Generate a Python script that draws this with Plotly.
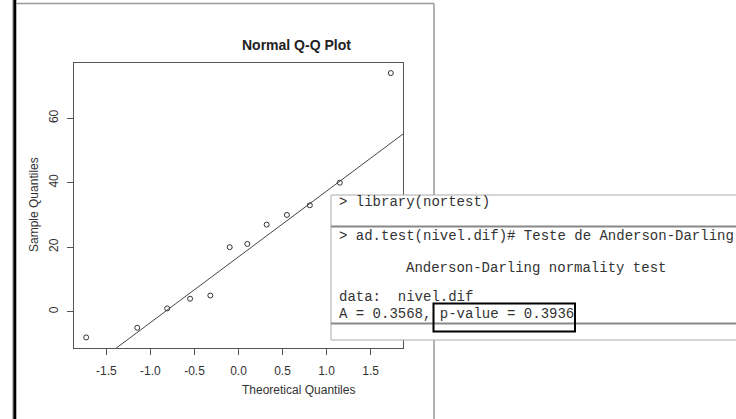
import plotly.graph_objects as go
import numpy as np
from statistics import NormalDist

W, H = 736, 419

# ---- data ----
theoretical_quantiles = [-1.73, -1.15, -0.81, -0.55, -0.32, -0.10, 0.10, 0.32, 0.55, 0.81, 1.15, 1.73]
sample_quantiles = [-8, -5, 1, 4, 5, 20, 21, 27, 30, 33, 40, 74]
x_tick_vals = [-1.5, -1.0, -0.5, 0.0, 0.5, 1.0, 1.5]
x_tick_text = ["-1.5", "-1.0", "-0.5", "0.0", "0.5", "1.0", "1.5"]
y_tick_vals = [0, 20, 40, 60]
y_tick_text = ["0", "20", "40", "60"]
title_text = "Normal Q-Q Plot"
x_title = "Theoretical Quantiles"
y_title = "Sample Quantiles"
console_lines = [
    "> library(nortest)",
    "> ad.test(nivel.dif)# Teste de Anderson-Darling",
    "Anderson-Darling normality test",
    "data:\u00a0\u00a0nivel.dif",
    "A = 0.3568, p-value = 0.3936",
]

# ---- layout helpers (pixel -> paper, margins are zero) ----
def px(x):
    return x / W

def py(y):
    return 1 - y / H

def r_range(v):
    lo, hi = min(v), max(v)
    pad = 0.04 * (hi - lo)
    return [lo - pad, hi + pad]

xr = r_range(theoretical_quantiles)
yr = r_range(sample_quantiles)

# qqline through the first and third quartiles (as R does)
q1, q3 = np.quantile(sample_quantiles, [0.25, 0.75])
z = NormalDist().inv_cdf(0.75)
slope = (q3 - q1) / (2 * z)
intercept = q1 + slope * z
line_x = np.array(xr)
line_y = intercept + slope * line_x

TXT = "#333333"
AX = "#555555"
SANS = "Liberation Sans, Arial, sans-serif"
MONO = "Liberation Mono, Courier New, monospace"

fig = go.Figure()
fig.add_trace(go.Scatter(
    x=line_x, y=line_y, mode="lines",
    line=dict(color="#444444", width=1), hoverinfo="skip", showlegend=False,
))
fig.add_trace(go.Scatter(
    x=theoretical_quantiles, y=sample_quantiles, mode="markers",
    marker=dict(symbol="circle-open", size=5, color="#333333", line=dict(width=1, color="#333333")),
    showlegend=False,
))

plot_left, plot_right, plot_top, plot_bottom = 74, 403, 62.5, 348

fig.update_layout(
    width=W, height=H,
    margin=dict(l=0, r=0, t=0, b=0),
    paper_bgcolor="white", plot_bgcolor="white",
    xaxis=dict(
        domain=[px(plot_left), px(plot_right)], range=xr,
        showgrid=False, zeroline=False,
        showline=True, mirror=True, linecolor=AX, linewidth=1,
        ticks="outside", ticklen=6, tickwidth=1, tickcolor=AX,
        tickvals=x_tick_vals, ticktext=x_tick_text, ticklabelstandoff=6,
        tickfont=dict(family=SANS, size=12, color=TXT),
    ),
    yaxis=dict(
        domain=[py(plot_bottom), py(plot_top)], range=yr,
        showgrid=False, zeroline=False,
        showline=True, mirror=True, linecolor=AX, linewidth=1,
        ticks="outside", ticklen=6, tickwidth=1, tickcolor=AX,
        tickvals=y_tick_vals, ticktext=y_tick_text, tickangle=-90, ticklabelstandoff=4,
        tickfont=dict(family=SANS, size=12, color=TXT),
    ),
)

ann = []
ann.append(dict(x=px(239.5), y=py(34.5), xref="paper", yref="paper", text=title_text,
                showarrow=False, font=dict(family=SANS, size=14, color="#222222", weight=700)))
ann.append(dict(x=px(240), y=py(399), xref="paper", yref="paper", text=x_title,
                showarrow=False, font=dict(family=SANS, size=12, color=TXT)))
ann.append(dict(x=px(25), y=py(205), xref="paper", yref="paper", text=y_title, textangle=-90,
                showarrow=False, font=dict(family=SANS, size=12, color=TXT)))

console_pos = [(339, 202), (339, 236), (406, 268), (339, 297), (339, 314)]
for t, (cx, cy) in zip(console_lines, console_pos):
    ann.append(dict(x=px(cx), y=py(cy), xref="paper", yref="paper", text=t,
                    xanchor="left", yanchor="middle", showarrow=False,
                    borderpad=0, borderwidth=0,
                    font=dict(family=MONO, size=14, color=TXT)))

shapes = []
# window frame
shapes.append(dict(type="line", xref="paper", yref="paper", x0=px(12.5), x1=px(12.5), y0=0, y1=1,
                   line=dict(color="#bbbbbb", width=1), layer="above"))
shapes.append(dict(type="line", xref="paper", yref="paper", x0=px(14.8), x1=px(14.8), y0=0, y1=1,
                   line=dict(color="#000000", width=3), layer="above"))
shapes.append(dict(type="line", xref="paper", yref="paper", x0=px(16), x1=px(434), y0=py(3.5), y1=py(3.5),
                   line=dict(color="#999999", width=1.5), layer="above"))
shapes.append(dict(type="line", xref="paper", yref="paper", x0=px(434), x1=px(434), y0=py(3.5), y1=0,
                   line=dict(color="#999999", width=1.5), layer="above"))
# console box
shapes.append(dict(type="rect", xref="paper", yref="paper", x0=px(331), x1=px(745), y0=py(195), y1=py(340),
                   fillcolor="white", line=dict(color="#aaaaaa", width=1), layer="above"))
shapes.append(dict(type="line", xref="paper", yref="paper", x0=px(331), x1=1, y0=py(226.5), y1=py(226.5),
                   line=dict(color="#888888", width=2), layer="above"))
shapes.append(dict(type="line", xref="paper", yref="paper", x0=px(331), x1=1, y0=py(323.5), y1=py(323.5),
                   line=dict(color="#888888", width=2), layer="above"))
# highlight box around p-value
shapes.append(dict(type="rect", xref="paper", yref="paper", x0=px(433.5), x1=px(575), y0=py(303.5), y1=py(331.5),
                   line=dict(color="#000000", width=2), layer="above"))

fig.update_layout(annotations=ann, shapes=shapes)
fig.write_html("out.html")
